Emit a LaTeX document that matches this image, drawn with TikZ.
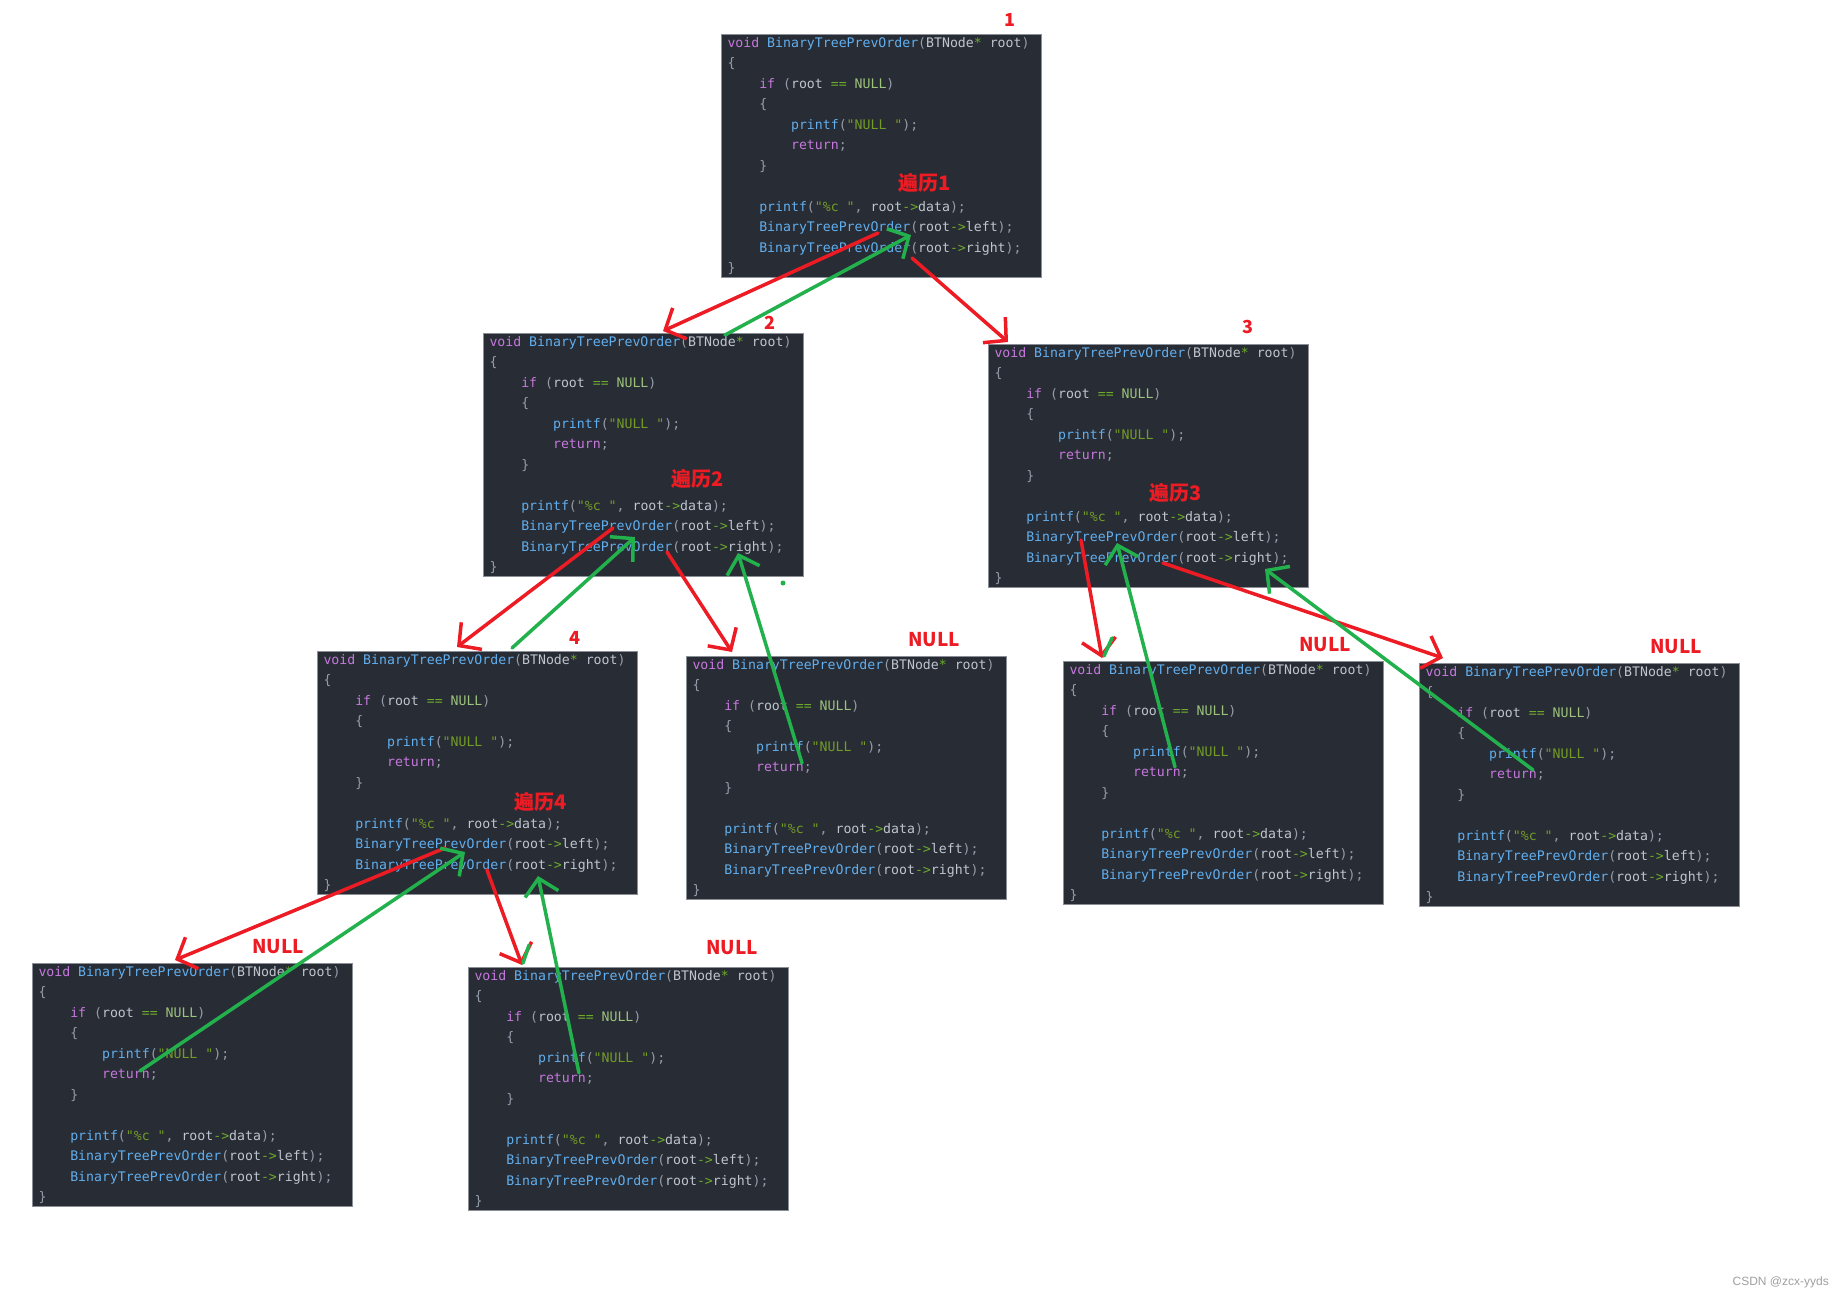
\documentclass[tikz,border=0pt]{standalone}
\usepackage{fontspec}
\usepackage{xcolor}
\newfontfamily\codefont{DejaVu Sans Mono}
\newfontfamily\cjkfont{Noto Sans CJK SC}
\newfontfamily\markfont{Liberation Sans}
\definecolor{codebg}{HTML}{282C34}
\definecolor{boxline}{HTML}{8A8F97}
\definecolor{kwcolor}{HTML}{C678DD}
\definecolor{fncolor}{HTML}{61AFEF}
\definecolor{idcolor}{HTML}{BFC5CE}
\definecolor{pucolor}{HTML}{969DAA}
\definecolor{opcolor}{HTML}{6DAA2C}
\definecolor{nullcolor}{HTML}{9CC27C}
\definecolor{strcolor}{HTML}{739C26}
\definecolor{inkred}{HTML}{ED1C24}
\definecolor{inkgreen}{HTML}{22B14C}
\usetikzlibrary{arrows.meta, calc}

% 代码着色
\newcommand\ckw[1]{\textcolor{kwcolor}{#1}}
\newcommand\cfn[1]{\textcolor{fncolor}{#1}}
\newcommand\cid[1]{\textcolor{idcolor}{#1}}
\newcommand\cpu[1]{\textcolor{pucolor}{#1}}
\newcommand\cop[1]{\textcolor{opcolor}{#1}}
\newcommand\cnull[1]{\textcolor{nullcolor}{#1}}
\newcommand\cstr[1]{\textcolor{strcolor}{#1}}
\newcommand\csp{\phantom{0}}
\newcommand\ind{\phantom{0000}}

% 每个框里的同一段函数
\newcommand\prevcode{%
\ckw{void}\csp\cfn{BinaryTreePrevOrder}\cpu{(}\cid{BTNode}\cop{*}\csp\cid{root}\cpu{)}\\
\cpu{\{}\\
\ind\ckw{if}\csp\cpu{(}\cid{root}\csp\cop{==}\csp\cnull{NULL}\cpu{)}\\
\ind\cpu{\{}\\
\ind\ind\cfn{printf}\cpu{(}\cstr{"NULL\csp"}\cpu{);}\\
\ind\ind\ckw{return}\cpu{;}\\
\ind\cpu{\}}\\
\mbox{}\\
\ind\cfn{printf}\cpu{(}\cstr{"\%c\csp"}\cpu{,}\csp\cid{root}\cop{->}\cid{data}\cpu{);}\\
\ind\cfn{BinaryTreePrevOrder}\cpu{(}\cid{root}\cop{->}\cid{left}\cpu{);}\\
\ind\cfn{BinaryTreePrevOrder}\cpu{(}\cid{root}\cop{->}\cid{right}\cpu{);}\\
\cpu{\}}}

\begin{document}
\begin{tikzpicture}[
  x=1pt, y=-1pt,
  codebox/.style={draw=boxline, line width=1pt, fill=codebg, anchor=north west,
    minimum width=320pt, minimum height=243pt, text width=308pt, align=left,
    inner xsep=6pt, inner ysep=0pt,
    font=\codefont\fontsize{13.2pt}{20.5pt}\selectfont},
  tag/.style={text=inkred, inner sep=0pt,
    font=\cjkfont\bfseries\fontsize{#1}{#1}\selectfont},
  tag/.default=19pt,
  call/.style={draw=inkred, line width=3.5pt, line cap=round,
    -{Straight Barb[length=16pt, width=34pt]}},
  back/.style={draw=inkgreen, line width=3.5pt, line cap=round,
    -{Straight Barb[length=16pt, width=34pt]}}
]
\useasboundingbox (0,0) rectangle (1844,1299);

% 递归调用的各层
\node[codebox] (n1) at (721,34) {\prevcode};
\node[codebox] (n2) at (483,333) {\prevcode};
\node[codebox] (n3) at (988,344) {\prevcode};
\node[codebox] (n4) at (317,651) {\prevcode};
\node[codebox] (n5) at (686,656) {\prevcode};
\node[codebox] (n6) at (1063,661) {\prevcode};
\node[codebox] (n7) at (1419,663) {\prevcode};
\node[codebox] (n8) at (32,963) {\prevcode};
\node[codebox] (n9) at (468,967) {\prevcode};

% 编号
\node[tag=18pt] (k1) at (1010,20) {1};
\node[tag=18pt] (k2) at (770,323) {2};
\node[tag=18pt] (k3) at (1248,327) {3};
\node[tag=18pt] (k4) at (575,638) {4};

% 遍历标注
\node[tag=20pt] (w1) at (925,183) {遍历1};
\node[tag=20pt] (w2) at (698,479) {遍历2};
\node[tag=20pt] (w3) at (1176,493) {遍历3};
\node[tag=20pt] (w4) at (541,802) {遍历4};

% 空节点
\node[tag] (z5) at (934,640) {NULL};
\node[tag] (z6) at (1325,645) {NULL};
\node[tag] (z7) at (1676,647) {NULL};
\node[tag] (z8) at (278,947) {NULL};
\node[tag] (z9) at (732,948) {NULL};

% 调用 (红) 的起止点
\coordinate (c12s) at (878,233);  \coordinate (c12e) at (663,331);
\coordinate (c13s) at (912,258);  \coordinate (c13e) at (1008,342);
\coordinate (c24s) at (613,528);  \coordinate (c24e) at (457,647);
\coordinate (c25s) at (667,552);  \coordinate (c25e) at (732,652);
\coordinate (c48s) at (445,848);  \coordinate (c48e) at (175,960);
\coordinate (c49s) at (487,870);  \coordinate (c49e) at (522,965);
\coordinate (c36s) at (1081,540); \coordinate (c36e) at (1102,658);
\coordinate (c37s) at (1163,563); \coordinate (c37e) at (1443,658);

% 返回 (绿) 的起止点
\coordinate (r21s) at (725,335);  \coordinate (r21e) at (911,235);
\coordinate (r42s) at (512,648);  \coordinate (r42e) at (635,537);
\coordinate (r52s) at (802,763);  \coordinate (r52e) at (738,553);
\coordinate (r84s) at (140,1071); \coordinate (r84e) at (465,852);
\coordinate (r94s) at (579,1073); \coordinate (r94e) at (538,876);
\coordinate (r63s) at (1175,767); \coordinate (r63e) at (1117,543);
\coordinate (r73s) at (1533,770); \coordinate (r73e) at (1265,569);

\foreach \a in {c12,c13,c24,c25,c48,c49,c36,c37}
  \draw[call] (\a s) -- (\a e);
\foreach \a in {r21,r42,r52,r84,r94,r63,r73}
  \draw[back] (\a s) -- (\a e);

% 零星笔迹
\coordinate (g9a) at (523,963);  \coordinate (g9b) at (529,945);
\coordinate (g6a) at (1104,656); \coordinate (g6b) at (1112,638);
\draw[inkgreen, line width=3.5pt, line cap=round] (g9a) -- (g9b);
\draw[inkgreen, line width=3.5pt, line cap=round] (g6a) -- (g6b);
\fill[inkgreen] (783,583) circle (2.5);

% 水印
\node[anchor=east, text=gray!75, inner sep=0pt,
  font=\markfont\fontsize{12pt}{12pt}\selectfont] (mark) at (1829,1282) {CSDN @zcx-yyds};

\end{tikzpicture}
\end{document}
